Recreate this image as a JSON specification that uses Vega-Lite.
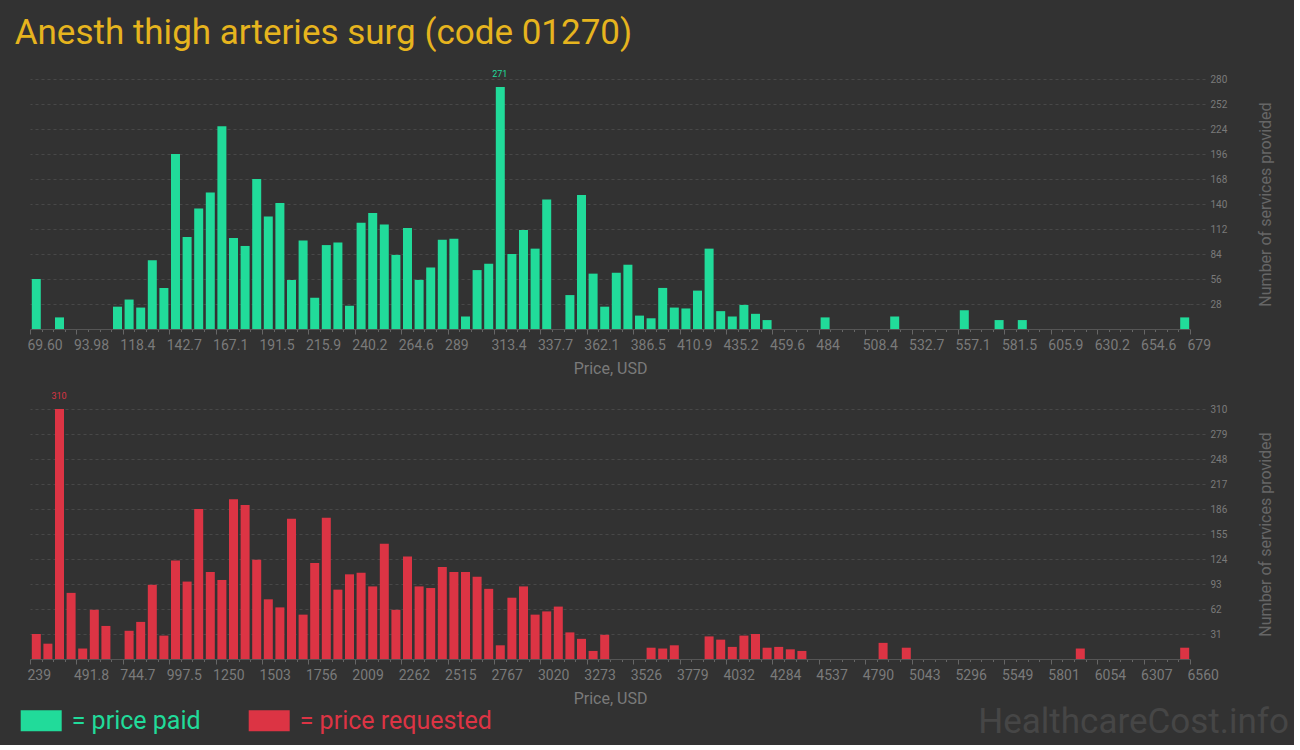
{
  "$schema": "https://vega.github.io/schema/vega-lite/v6.json",
  "background": "#323232",
  "padding": {"left": 14, "top": 16, "right": 5, "bottom": 5},
  "title": {"text": "Anesth thigh arteries surg (code 01270)", "anchor": "start", "font": "Roboto", "fontSize": 35, "fontWeight": "normal", "color": "#e6b41e", "dx": -6, "offset": 19},
  "spacing": 16,
  "datasets": {
    "paid": [
      {"series":"price paid","from":69.60,"to":75.69,"count":56},
      {"series":"price paid","from":81.79,"to":87.88,"count":13},
      {"series":"price paid","from":112.26,"to":118.35,"count":25},
      {"series":"price paid","from":118.35,"to":124.45,"count":33},
      {"series":"price paid","from":124.45,"to":130.54,"count":24},
      {"series":"price paid","from":130.54,"to":136.63,"count":77},
      {"series":"price paid","from":136.63,"to":142.73,"count":46},
      {"series":"price paid","from":142.73,"to":148.82,"count":196},
      {"series":"price paid","from":148.82,"to":154.92,"count":103},
      {"series":"price paid","from":154.92,"to":161.01,"count":135},
      {"series":"price paid","from":161.01,"to":167.10,"count":153},
      {"series":"price paid","from":167.10,"to":173.20,"count":227},
      {"series":"price paid","from":173.20,"to":179.29,"count":102},
      {"series":"price paid","from":179.29,"to":185.39,"count":93},
      {"series":"price paid","from":185.39,"to":191.48,"count":168},
      {"series":"price paid","from":191.48,"to":197.57,"count":126},
      {"series":"price paid","from":197.57,"to":203.67,"count":141},
      {"series":"price paid","from":203.67,"to":209.76,"count":55},
      {"series":"price paid","from":209.76,"to":215.86,"count":99},
      {"series":"price paid","from":215.86,"to":221.95,"count":35},
      {"series":"price paid","from":221.95,"to":228.04,"count":94},
      {"series":"price paid","from":228.04,"to":234.14,"count":97},
      {"series":"price paid","from":234.14,"to":240.23,"count":26},
      {"series":"price paid","from":240.23,"to":246.33,"count":119},
      {"series":"price paid","from":246.33,"to":252.42,"count":130},
      {"series":"price paid","from":252.42,"to":258.51,"count":117},
      {"series":"price paid","from":258.51,"to":264.61,"count":83},
      {"series":"price paid","from":264.61,"to":270.70,"count":113},
      {"series":"price paid","from":270.70,"to":276.80,"count":55},
      {"series":"price paid","from":276.80,"to":282.89,"count":69},
      {"series":"price paid","from":282.89,"to":288.98,"count":100},
      {"series":"price paid","from":288.98,"to":295.08,"count":101},
      {"series":"price paid","from":295.08,"to":301.17,"count":14},
      {"series":"price paid","from":301.17,"to":307.27,"count":66},
      {"series":"price paid","from":307.27,"to":313.36,"count":73},
      {"series":"price paid","from":313.36,"to":319.45,"count":271},
      {"series":"price paid","from":319.45,"to":325.55,"count":84},
      {"series":"price paid","from":325.55,"to":331.64,"count":111},
      {"series":"price paid","from":331.64,"to":337.74,"count":90},
      {"series":"price paid","from":337.74,"to":343.83,"count":145},
      {"series":"price paid","from":349.92,"to":356.02,"count":38},
      {"series":"price paid","from":356.02,"to":362.11,"count":150},
      {"series":"price paid","from":362.11,"to":368.21,"count":62},
      {"series":"price paid","from":368.21,"to":374.30,"count":25},
      {"series":"price paid","from":374.30,"to":380.39,"count":63},
      {"series":"price paid","from":380.39,"to":386.49,"count":72},
      {"series":"price paid","from":386.49,"to":392.58,"count":15},
      {"series":"price paid","from":392.58,"to":398.68,"count":12},
      {"series":"price paid","from":398.68,"to":404.77,"count":46},
      {"series":"price paid","from":404.77,"to":410.86,"count":24},
      {"series":"price paid","from":410.86,"to":416.96,"count":23},
      {"series":"price paid","from":416.96,"to":423.05,"count":43},
      {"series":"price paid","from":423.05,"to":429.15,"count":90},
      {"series":"price paid","from":429.15,"to":435.24,"count":20},
      {"series":"price paid","from":435.24,"to":441.33,"count":14},
      {"series":"price paid","from":441.33,"to":447.43,"count":27},
      {"series":"price paid","from":447.43,"to":453.52,"count":17},
      {"series":"price paid","from":453.52,"to":459.61,"count":10},
      {"series":"price paid","from":484.00,"to":490.09,"count":13},
      {"series":"price paid","from":520.56,"to":526.65,"count":14},
      {"series":"price paid","from":557.12,"to":563.21,"count":21},
      {"series":"price paid","from":575.40,"to":581.50,"count":10},
      {"series":"price paid","from":587.59,"to":593.68,"count":10},
      {"series":"price paid","from":672.91,"to":679.00,"count":13}
    ],
    "requested": [
      {"series":"price requested","from":239.00,"to":302.21,"count":31},
      {"series":"price requested","from":302.21,"to":365.42,"count":19},
      {"series":"price requested","from":365.42,"to":428.63,"count":310},
      {"series":"price requested","from":428.63,"to":491.84,"count":82},
      {"series":"price requested","from":491.84,"to":555.05,"count":13},
      {"series":"price requested","from":555.05,"to":618.26,"count":61},
      {"series":"price requested","from":618.26,"to":681.47,"count":41},
      {"series":"price requested","from":744.68,"to":807.89,"count":35},
      {"series":"price requested","from":807.89,"to":871.10,"count":46},
      {"series":"price requested","from":871.10,"to":934.31,"count":92},
      {"series":"price requested","from":934.31,"to":997.52,"count":29},
      {"series":"price requested","from":997.52,"to":1060.73,"count":122},
      {"series":"price requested","from":1060.73,"to":1123.94,"count":96},
      {"series":"price requested","from":1123.94,"to":1187.15,"count":186},
      {"series":"price requested","from":1187.15,"to":1250.36,"count":108},
      {"series":"price requested","from":1250.36,"to":1313.57,"count":98},
      {"series":"price requested","from":1313.57,"to":1376.78,"count":198},
      {"series":"price requested","from":1376.78,"to":1439.99,"count":191},
      {"series":"price requested","from":1439.99,"to":1503.20,"count":123},
      {"series":"price requested","from":1503.20,"to":1566.41,"count":74},
      {"series":"price requested","from":1566.41,"to":1629.62,"count":64},
      {"series":"price requested","from":1629.62,"to":1692.83,"count":174},
      {"series":"price requested","from":1692.83,"to":1756.04,"count":55},
      {"series":"price requested","from":1756.04,"to":1819.25,"count":119},
      {"series":"price requested","from":1819.25,"to":1882.46,"count":175},
      {"series":"price requested","from":1882.46,"to":1945.67,"count":86},
      {"series":"price requested","from":1945.67,"to":2008.88,"count":105},
      {"series":"price requested","from":2008.88,"to":2072.09,"count":107},
      {"series":"price requested","from":2072.09,"to":2135.30,"count":90},
      {"series":"price requested","from":2135.30,"to":2198.51,"count":143},
      {"series":"price requested","from":2198.51,"to":2261.72,"count":61},
      {"series":"price requested","from":2261.72,"to":2324.93,"count":127},
      {"series":"price requested","from":2324.93,"to":2388.14,"count":90},
      {"series":"price requested","from":2388.14,"to":2451.35,"count":88},
      {"series":"price requested","from":2451.35,"to":2514.56,"count":114},
      {"series":"price requested","from":2514.56,"to":2577.77,"count":108},
      {"series":"price requested","from":2577.77,"to":2640.98,"count":108},
      {"series":"price requested","from":2640.98,"to":2704.19,"count":102},
      {"series":"price requested","from":2704.19,"to":2767.40,"count":87},
      {"series":"price requested","from":2767.40,"to":2830.61,"count":17},
      {"series":"price requested","from":2830.61,"to":2893.82,"count":76},
      {"series":"price requested","from":2893.82,"to":2957.03,"count":90},
      {"series":"price requested","from":2957.03,"to":3020.24,"count":55},
      {"series":"price requested","from":3020.24,"to":3083.45,"count":59},
      {"series":"price requested","from":3083.45,"to":3146.66,"count":65},
      {"series":"price requested","from":3146.66,"to":3209.87,"count":33},
      {"series":"price requested","from":3209.87,"to":3273.08,"count":25},
      {"series":"price requested","from":3273.08,"to":3336.29,"count":10},
      {"series":"price requested","from":3336.29,"to":3399.50,"count":30},
      {"series":"price requested","from":3589.13,"to":3652.34,"count":14},
      {"series":"price requested","from":3652.34,"to":3715.55,"count":13},
      {"series":"price requested","from":3715.55,"to":3778.76,"count":17},
      {"series":"price requested","from":3905.18,"to":3968.39,"count":28},
      {"series":"price requested","from":3968.39,"to":4031.60,"count":24},
      {"series":"price requested","from":4031.60,"to":4094.81,"count":15},
      {"series":"price requested","from":4094.81,"to":4158.02,"count":29},
      {"series":"price requested","from":4158.02,"to":4221.23,"count":31},
      {"series":"price requested","from":4221.23,"to":4284.44,"count":14},
      {"series":"price requested","from":4284.44,"to":4347.65,"count":15},
      {"series":"price requested","from":4347.65,"to":4410.86,"count":12},
      {"series":"price requested","from":4410.86,"to":4474.07,"count":10},
      {"series":"price requested","from":4853.33,"to":4916.54,"count":20},
      {"series":"price requested","from":4979.75,"to":5042.96,"count":14},
      {"series":"price requested","from":5927.90,"to":5991.11,"count":13},
      {"series":"price requested","from":6496.79,"to":6560.00,"count":14}
    ]
  },
  "vconcat": [
    {
      "width": 1160,
      "height": 250,
      "data": {"name": "paid"},
      "layer": [
        {
          "mark": {"type": "bar", "binSpacing": 2.6},
          "encoding": {
            "x": {"field": "from", "type": "quantitative", "bin": "binned", "title": "Price, USD",
              "scale": {"domain": [69.6, 679], "nice": false, "zero": false},
              "axis": {
                "values": {"expr": "sequence(69.6, 679.05, 6.094)"},
                "tickCount": 500,
                "labelExpr": "round((datum.value-69.6)/6.094) % 4 == 0 ? ['69.60','93.98','118.4','142.7','167.1','191.5','215.9','240.2','264.6','289','313.4','337.7','362.1','386.5','410.9','435.2','459.6','484','508.4','532.7','557.1','581.5','605.9','630.2','654.6','679'][round((datum.value-69.6)/24.376)] : ''",
                "tickSize": {"condition": {"test": "round((datum.value-69.6)/6.094) % 4 == 0", "value": 5}, "value": 2.5}
              }
            },
            "x2": {"field": "to"},
            "y": {"field": "count", "type": "quantitative", "scale": {"domain": [0, 280], "nice": false},
              "axis": {"values": [28, 56, 84, 112, 140, 168, 196, 224, 252, 280], "tickCount": 100, "labelOverlap": false, "title": "Number of services provided"}},
            "color": {"field": "series", "type": "nominal",
              "scale": {"domain": ["price paid", "price requested"], "range": ["#21db9a", "#dc3444"]},
              "legend": {
                "orient": "none", "direction": "horizontal", "legendX": -9.3, "legendY": 621,
                "title": null,
                "symbolType": "M-1,-0.512H1V0.512H-1Z", "symbolSize": 1681, "symbolStrokeWidth": 0, "symbolOpacity": 1,
                "labelFont": "Roboto", "labelFontSize": 25, "labelOffset": 10, "columnPadding": 48, "labelLimit": 400,
                "labelExpr": "'= ' + datum.label",
                "labelColor": {"expr": "datum.value == 'price paid' ? '#21db9a' : '#dc3444'"}
              }
            }
          }
        },
        {
          "transform": [
            {"joinaggregate": [{"op": "max", "field": "count", "as": "maxc"}]},
            {"filter": "datum.count == datum.maxc"}
          ],
          "mark": {"type": "text", "baseline": "bottom", "dy": -8, "dx": 5.8, "font": "Roboto", "fontSize": 9, "color": "#21db9a"},
          "encoding": {
            "x": {"field": "from", "type": "quantitative"},
            "y": {"field": "count", "type": "quantitative"},
            "text": {"field": "count", "type": "quantitative"}
          }
        }
      ]
    },
    {
      "width": 1160,
      "height": 250,
      "data": {"name": "requested"},
      "title": {"text": "HealthcareCost.info", "orient": "bottom", "anchor": "end", "frame": "group", "font": "Roboto", "fontSize": 35, "fontWeight": "normal", "color": "#464646", "dx": 99, "offset": -1},
      "layer": [
        {
          "mark": {"type": "bar", "binSpacing": 2.6},
          "encoding": {
            "x": {"field": "from", "type": "quantitative", "bin": "binned", "title": "Price, USD",
              "scale": {"domain": [239, 6560], "nice": false, "zero": false},
              "axis": {
                "values": {"expr": "sequence(239, 6560.5, 63.21)"},
                "tickCount": 500,
                "labelExpr": "round((datum.value-239)/63.21) % 4 == 0 ? ['239','491.8','744.7','997.5','1250','1503','1756','2009','2262','2515','2767','3020','3273','3526','3779','4032','4284','4537','4790','5043','5296','5549','5801','6054','6307','6560'][round((datum.value-239)/252.84)] : ''",
                "tickSize": {"condition": {"test": "round((datum.value-239)/63.21) % 4 == 0", "value": 5}, "value": 2.5}
              }
            },
            "x2": {"field": "to"},
            "y": {"field": "count", "type": "quantitative", "scale": {"domain": [0, 310], "nice": false},
              "axis": {"values": [31, 62, 93, 124, 155, 186, 217, 248, 279, 310], "tickCount": 100, "labelOverlap": false, "title": "Number of services provided"}},
            "color": {"field": "series", "type": "nominal",
              "scale": {"domain": ["price paid", "price requested"], "range": ["#21db9a", "#dc3444"]}}
          }
        },
        {
          "transform": [
            {"joinaggregate": [{"op": "max", "field": "count", "as": "maxc"}]},
            {"filter": "datum.count == datum.maxc"}
          ],
          "mark": {"type": "text", "baseline": "bottom", "dy": -8, "dx": 5.8, "font": "Roboto", "fontSize": 9, "color": "#dc3444"},
          "encoding": {
            "x": {"field": "from", "type": "quantitative"},
            "y": {"field": "count", "type": "quantitative"},
            "text": {"field": "count", "type": "quantitative"}
          }
        }
      ]
    }
  ],
  "config": {
    "view": {"stroke": null},
    "font": "Roboto",
    "axis": {"labelFont": "Roboto", "titleFont": "Roboto", "labelColor": "#7a7a7a", "titleColor": "#7a7a7a", "titleFontWeight": "normal"},
    "axisX": {"domainColor": "#555555", "tickColor": "#666666", "grid": false, "labelFontSize": 14, "labelAlign": "left", "labelBaseline": "top", "labelOffset": -3, "labelPadding": 4, "titleFontSize": 16, "titlePadding": 8, "labelOverlap": false, "labelBound": false, "labelFlush": false},
    "axisY": {"orient": "right", "grid": true, "gridColor": "#484848", "gridDash": [3, 3], "tickColor": "#484848", "tickDash": [3, 3], "tickSize": 16, "domain": false, "labelFontSize": 10, "labelPadding": 4, "labelBaseline": "middle", "labelOverlap": false, "titleFontSize": 16, "titleAngle": 270, "titlePadding": 47, "titleColor": "#666666"}
  }
}
